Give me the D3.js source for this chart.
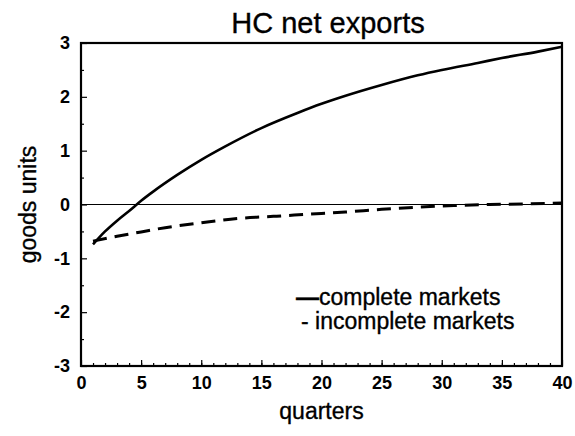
<!DOCTYPE html>
<html lang="en">
<head>
    <meta charset="UTF-8">
    <title>HC net exports</title>
    <script src="https://d3js.org/d3.v7.min.js"></script>
    <style>
        body { margin: 0; background: #fff; }
        svg { display: block; }
        text { font-family: "Liberation Sans", Arial, Helvetica, sans-serif; fill: #000; stroke: #000; stroke-width: 0.35px; }
        .tick-label { font-size: 18px; font-weight: bold; stroke-width: 0; }
        .axis-title { font-size: 23px; }
        .chart-title { font-size: 29px; text-anchor: middle; }
        .legend-text { font-size: 23px; }
        .line { fill: none; stroke: #000; }
    </style>
</head>
<body>
    <svg id="chart" width="575" height="436"></svg>

    <script>
        // complete markets (solid)
        const completeQ = [1, 2, 3, 4, 5, 6, 8, 10, 12, 15, 18, 20, 22, 25, 28, 30, 33, 35, 38, 40];
        const completeV = [-0.74, -0.5, -0.3, -0.12, 0.07, 0.24, 0.55, 0.83, 1.08, 1.42, 1.70, 1.87, 2.02, 2.22, 2.40, 2.50, 2.63, 2.72, 2.84, 2.93];

        // incomplete markets (dashed)
        const incompleteQ = [1, 3, 5, 7, 10, 13, 16, 19, 22, 25, 28, 31, 34, 37, 40];
        const incompleteV = [-0.68, -0.59, -0.51, -0.43, -0.34, -0.26, -0.22, -0.18, -0.14, -0.09, -0.05, -0.02, 0.0, 0.01, 0.03];

        const xTicks = [0, 5, 10, 15, 20, 25, 30, 35, 40];
        const yTicks = [-3, -2, -1, 0, 1, 2, 3];

        const margin = {top: 43, right: 13, bottom: 70, left: 81};
        const width = 575 - margin.left - margin.right;
        const height = 436 - margin.top - margin.bottom;

        const svg = d3.select("#chart");
        const g = svg.append("g")
            .attr("transform", `translate(${margin.left},${margin.top})`);

        const x = d3.scaleLinear().domain([0, 40]).range([0, width]);
        const y = d3.scaleLinear().domain([-3, 3]).range([height, 0]);

        // zero line
        g.append("line")
            .attr("x1", 0).attr("x2", width)
            .attr("y1", y(0)).attr("y2", y(0))
            .attr("stroke", "#000").attr("stroke-width", 1);

        // minor ticks
        g.append("g")
            .call(d3.axisLeft(y).tickValues(d3.range(-2.5, 3, 1)).tickSizeInner(-3).tickSizeOuter(0).tickFormat(""))
            .call(a => a.select(".domain").remove());
        g.append("g")
            .attr("transform", `translate(0,${height})`)
            .call(d3.axisBottom(x).tickValues(d3.range(1, 40)).tickSizeInner(-3).tickSizeOuter(0).tickFormat(""))
            .call(a => a.select(".domain").remove());

        // major ticks + labels (plain hyphen for negatives, like the original)
        const yAxis = g.append("g")
            .call(d3.axisLeft(y).tickValues(yTicks).tickSizeInner(-6).tickSizeOuter(0).tickPadding(11).tickFormat(d => String(d)));
        yAxis.select(".domain").remove();
        yAxis.selectAll("text").attr("class", "tick-label").attr("font-family", null).attr("font-size", null);

        const xAxis = g.append("g")
            .attr("transform", `translate(0,${height})`)
            .call(d3.axisBottom(x).tickValues(xTicks).tickSizeInner(-6).tickSizeOuter(0).tickPadding(10));
        xAxis.select(".domain").remove();
        xAxis.selectAll("text").attr("class", "tick-label").attr("font-family", null).attr("font-size", null);

        g.selectAll(".tick line").attr("stroke-width", 1.2);

        // frame
        g.append("rect")
            .attr("width", width).attr("height", height)
            .attr("fill", "none").attr("stroke", "#000").attr("stroke-width", 2.2);

        const line = d3.line()
            .x(d => x(d[0]))
            .y(d => y(d[1]))
            .curve(d3.curveMonotoneX);

        g.append("path")
            .datum(d3.zip(completeQ, completeV))
            .attr("class", "line")
            .attr("stroke-width", 2.6)
            .attr("d", line);

        g.append("path")
            .datum(d3.zip(incompleteQ, incompleteV))
            .attr("class", "line")
            .attr("stroke-width", 3)
            .attr("stroke-dasharray", "14,8")
            .attr("d", line);

        // titles
        svg.append("text")
            .attr("class", "chart-title")
            .attr("x", 328).attr("y", 33)
            .text("HC net exports");

        svg.append("text")
            .attr("class", "axis-title")
            .attr("x", margin.left + width / 2).attr("y", 419)
            .attr("text-anchor", "middle")
            .text("quarters");

        svg.append("text")
            .attr("class", "axis-title")
            .attr("transform", `translate(36,${margin.top + height / 2}) rotate(-90)`)
            .attr("text-anchor", "middle")
            .text("goods units");

        // legend
        const legend = svg.append("g").attr("class", "legend-text");
        const row1 = legend.append("text").attr("x", 296).attr("y", 305);
        row1.append("tspan").attr("font-weight", "bold").text("—");
        row1.append("tspan").text("complete markets");
        legend.append("text").attr("x", 301).attr("y", 329).text("- incomplete markets");
    </script>
</body>
</html>
